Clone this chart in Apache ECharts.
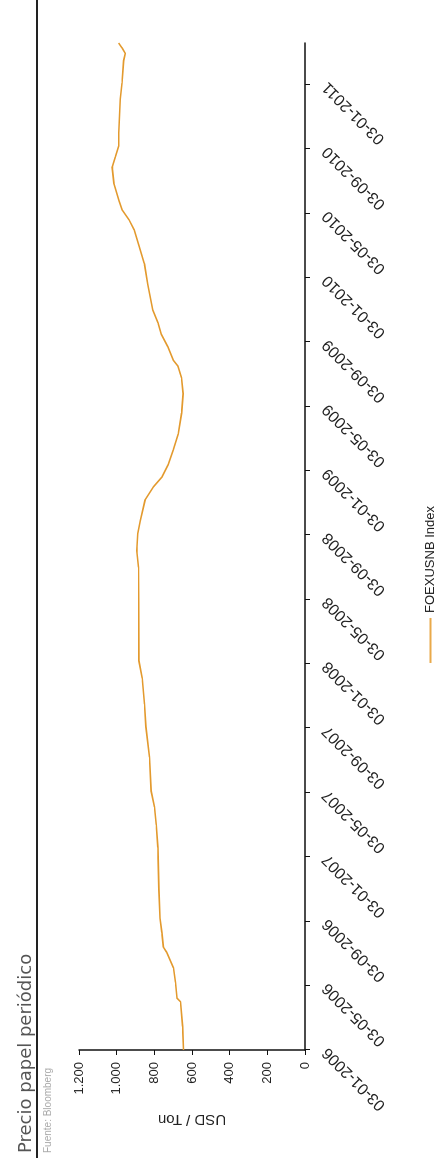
<!DOCTYPE html>
<html>
<head>
<meta charset="utf-8">
<title>Precio papel periódico</title>
<script src="https://cdn.jsdelivr.net/npm/echarts@6/dist/echarts.min.js"></script>
<style>
  html, body { margin: 0; padding: 0; width: 440px; height: 1169px; overflow: hidden; background: #fff; }
  /* the chart is laid out landscape and turned a quarter turn to fit the portrait page */
  #chart {
    position: absolute; left: 0; top: 0;
    width: 1169px; height: 440px;
    transform-origin: 0 0;
    transform: translate(0, 1169px) rotate(-90deg);
  }
</style>
</head>
<body>
<div id="chart"></div>
<script>
// FOEX newsprint index (USD per metric ton)
const dates = [
  '2006-01-03','2006-02-17','2006-04-03','2006-04-10','2006-05-09','2006-06-06',
  '2006-07-05','2006-07-15','2006-08-12','2006-09-09','2006-11-03','2007-01-21',
  '2007-03-03','2007-04-06','2007-05-06','2007-07-09','2007-09-06','2007-10-18',
  '2007-12-06','2008-01-09','2008-04-30','2008-07-03','2008-08-04','2008-09-06',
  '2008-09-30','2008-11-09','2008-12-03','2008-12-21','2009-01-15','2009-02-12',
  '2009-03-12','2009-04-21','2009-05-27','2009-06-27','2009-07-18','2009-07-30',
  '2009-08-24','2009-09-18','2009-10-09','2009-11-03','2009-12-21','2010-01-30',
  '2010-03-01','2010-04-02','2010-04-21','2010-05-09','2010-05-27','2010-06-30',
  '2010-07-30','2010-08-18','2010-09-09','2010-10-03','2010-12-06','2011-01-06',
  '2011-02-18','2011-03-01','2011-03-12','2011-03-21'
];
const prices = [
  645, 650, 661, 680, 688, 698,
  734, 752, 760, 770, 776, 781,
  790, 799, 817, 826, 845, 852,
  864, 882, 883, 884, 893, 888,
  875, 849, 805, 761, 726, 699,
  673, 655, 647, 656, 674, 700,
  727, 763, 781, 808, 835, 853,
  880, 907, 934, 970, 988, 1015,
  1024, 1007, 989, 989, 981, 972,
  963, 954, 972, 990
];
const dateTicks = [
  '03-01-2006','03-05-2006','03-09-2006','03-01-2007','03-05-2007','03-09-2007',
  '03-01-2008','03-05-2008','03-09-2008','03-01-2009','03-05-2009','03-09-2009',
  '03-01-2010','03-05-2010','03-09-2010','03-01-2011'
];
const valueTicks = ['0', '200', '400', '600', '800', '1.000', '1.200'];

// dates are placed on a month scale counted from 03-01-2006
function monthsFromStart(s) {
  const p = s.split('-').map(Number);
  return (p[0] - 2006) * 12 + (p[1] - 1) + (p[2] - 3) / 30.44;
}
const seriesData = dates.map((d, i) => [monthsFromStart(d), prices[i]]);
const lastMonth = seriesData[seriesData.length - 1][0];
const tickMonths = dateTicks.map((_, i) => i * 4);

const chart = echarts.init(document.getElementById('chart'));
chart.setOption({
  backgroundColor: '#fff',
  animation: false,
  textStyle: { fontFamily: 'Liberation Sans, Arial, sans-serif' },
  title: [
    {
      text: 'Precio papel periódico',
      left: 11, top: 12,
      textStyle: { fontFamily: 'DejaVu Sans, sans-serif', fontSize: 18, fontWeight: 'normal', color: '#555' }
    },
    {
      text: 'Fuente: Bloomberg',
      left: 11, top: 38,
      textStyle: { fontSize: 10, fontWeight: 'normal', color: '#aaa' }
    }
  ],
  graphic: [
    { type: 'line', shape: { x1: 11, y1: 37, x2: 1169, y2: 37 }, style: { stroke: '#222', lineWidth: 2 } }
  ],
  legend: {
    left: 'center', top: 424, padding: 0,
    itemWidth: 45, itemHeight: 2, itemGap: 10,
    icon: 'rect',
    textStyle: { fontSize: 13, color: '#222' },
    data: ['FOEXUSNB Index']
  },
  grid: { left: 119, right: 43, top: 79, bottom: 135, containLabel: false, outerBoundsMode: 'none' },
  xAxis: {
    type: 'value',
    min: 0, max: lastMonth,
    axisLine: { show: true, lineStyle: { color: '#111', width: 1.5 } },
    axisTick: { show: true, length: 5, lineStyle: { color: '#111' }, customValues: tickMonths },
    axisLabel: {
      rotate: 45, margin: 20, fontSize: 16, color: '#222',
      customValues: tickMonths,
      formatter: v => dateTicks[Math.round(v / 4)] || ''
    },
    splitLine: { show: false }
  },
  yAxis: {
    type: 'value',
    min: 0, max: 1200, interval: 200,
    name: 'USD / Ton', nameLocation: 'middle', nameGap: 62,
    nameTextStyle: { fontSize: 15, color: '#222' },
    axisLine: { show: true, lineStyle: { color: '#111', width: 1.5 } },
    axisTick: { show: true, length: 5, lineStyle: { color: '#111' } },
    axisLabel: {
      margin: 12, fontSize: 13, color: '#222',
      formatter: v => valueTicks[Math.round(v / 200)]
    },
    splitLine: { show: false }
  },
  series: [{
    name: 'FOEXUSNB Index',
    type: 'line',
    symbol: 'none',
    data: seriesData,
    lineStyle: { color: '#E39A2E', width: 1.6 },
    itemStyle: { color: '#E9A94A' }
  }]
});
</script>
</body>
</html>
